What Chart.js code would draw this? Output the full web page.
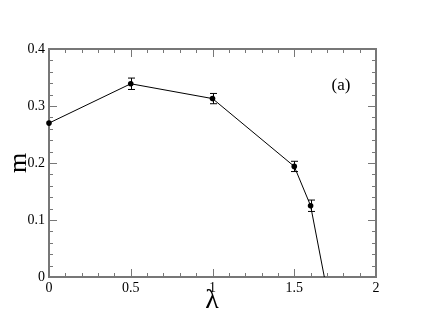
<!DOCTYPE html>
<html>
<head>
<meta charset="utf-8">
<script src="https://cdn.jsdelivr.net/npm/chart.js@4"></script>
<style>
  html, body { margin: 0; padding: 0; background: #fff; }
  #wrap { width: 423px; height: 327px; }
</style>
</head>
<body>
<div id="wrap"><canvas id="chart" width="423" height="327"></canvas></div>
<script>
// data
const lambdaVals = [0, 0.5, 1.0, 1.5, 1.6, 1.684];
const mVals = [0.270, 0.339, 0.313, 0.194, 0.125, 0];
const mErr = [0, 0.010, 0.009, 0.009, 0.010, 0];
const xTicks = [0, 0.5, 1, 1.5, 2];
const yTicks = [0, 0.1, 0.2, 0.3, 0.4];

const serif = 'Liberation Serif, Times New Roman, serif';
const axisColor = '#777';

const points = lambdaVals.map((x, i) => ({ x: x, y: mVals[i] }));

// frame + inward ticks under the data, error bars and titles on top
const decor = {
  id: 'decor',
  beforeDatasetsDraw(chart) {
    const ctx = chart.ctx;
    const xs = chart.scales.x, ys = chart.scales.y;
    const a = chart.chartArea;
    ctx.save();
    ctx.strokeStyle = axisColor;
    ctx.lineWidth = 1;
    ctx.beginPath();
    for (let v = 0; v <= 20; v++) {
      const px = Math.round(xs.getPixelForValue(v / 10)) + 0.5;
      const len = v % 5 === 0 ? 8 : 4;
      ctx.moveTo(px, a.bottom); ctx.lineTo(px, a.bottom - len);
      ctx.moveTo(px, a.top); ctx.lineTo(px, a.top + len);
    }
    for (let v = 0; v <= 20; v++) {
      const py = Math.round(ys.getPixelForValue(v / 50)) + 0.5;
      const len = v % 5 === 0 ? 8 : 4;
      ctx.moveTo(a.left, py); ctx.lineTo(a.left + len, py);
      ctx.moveTo(a.right, py); ctx.lineTo(a.right - len, py);
    }
    ctx.stroke();
    ctx.lineWidth = 2;
    ctx.strokeRect(a.left, a.top, a.right - a.left, a.bottom - a.top);
    ctx.restore();
  },
  afterDatasetsDraw(chart) {
    const ctx = chart.ctx;
    const xs = chart.scales.x, ys = chart.scales.y;
    ctx.save();

    // error bars
    ctx.strokeStyle = '#000';
    ctx.lineWidth = 1;
    lambdaVals.forEach((x, i) => {
      if (!mErr[i]) return;
      const px = Math.round(xs.getPixelForValue(x)) + 0.5;
      const top = ys.getPixelForValue(mVals[i] + mErr[i]);
      const bot = ys.getPixelForValue(mVals[i] - mErr[i]);
      ctx.beginPath();
      ctx.moveTo(px, top); ctx.lineTo(px, bot);
      ctx.moveTo(px - 3.5, top); ctx.lineTo(px + 3.5, top);
      ctx.moveTo(px - 3.5, bot); ctx.lineTo(px + 3.5, bot);
      ctx.stroke();
    });

    // panel label and axis titles
    ctx.fillStyle = '#000';
    ctx.textAlign = 'center';
    ctx.textBaseline = 'middle';
    ctx.font = '17px ' + serif;
    ctx.fillText('(a)', 341, 86);
    ctx.font = '28px ' + serif;
    ctx.fillText('λ', 212, 301);
    ctx.translate(19, 163);
    ctx.rotate(-Math.PI / 2);
    ctx.font = '26px ' + serif;
    ctx.fillText('m', 0, 0);
    ctx.restore();
  }
};

new Chart(document.getElementById('chart'), {
  type: 'scatter',
  data: {
    datasets: [{
      data: points,
      showLine: true,
      clip: false,
      borderColor: '#000',
      borderWidth: 1,
      backgroundColor: '#000',
      pointRadius: lambdaVals.map((x, i) => i === lambdaVals.length - 1 ? 0 : 2.8),
      pointBorderWidth: 0,
      tension: 0
    }]
  },
  options: {
    responsive: false,
    animation: false,
    layout: { padding: { top: 49, right: 47, left: 0, bottom: 0 } },
    plugins: { legend: { display: false }, tooltip: { enabled: false } },
    scales: {
      x: {
        type: 'linear', min: 0, max: 2,
        afterBuildTicks: s => { s.ticks = xTicks.map(v => ({ value: v })); },
        afterFit: s => { s.height = 50; },
        grid: { display: false, drawTicks: false },
        border: { display: false },
        ticks: { color: '#000', font: { family: serif, size: 14 }, padding: 3, callback: v => String(v) }
      },
      y: {
        type: 'linear', min: 0, max: 0.4,
        afterBuildTicks: s => { s.ticks = yTicks.map(v => ({ value: v })); },
        afterFit: s => { s.width = 49; },
        grid: { display: false, drawTicks: false },
        border: { display: false },
        ticks: { color: '#000', font: { family: serif, size: 14 }, padding: 4, callback: v => String(v) }
      }
    }
  },
  plugins: [decor]
});
</script>
</body>
</html>
